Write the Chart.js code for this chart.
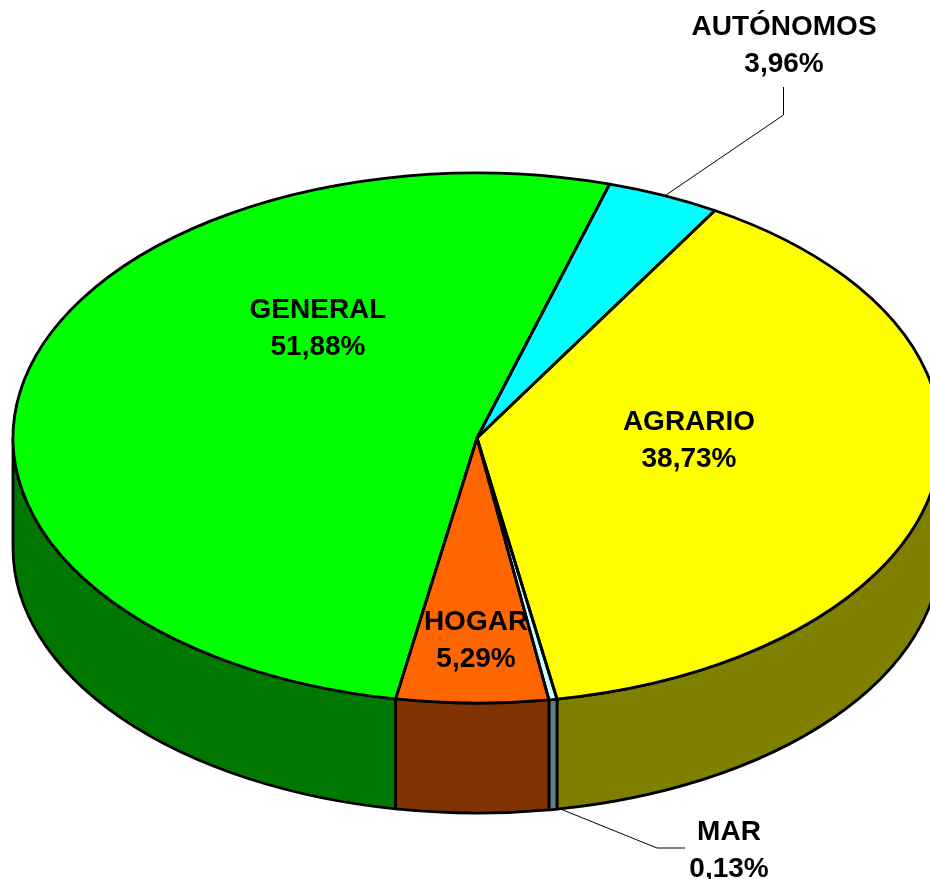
<!DOCTYPE html>
<html>
<head>
<meta charset="utf-8">
<style>
html, body { margin: 0; padding: 0; background: #fff; overflow: hidden; }
canvas { display: block; }
</style>
<script src="https://cdn.jsdelivr.net/npm/chart.js@4"></script>
</head>
<body>
<canvas id="myChart" width="930" height="879"></canvas>
<script>
const categories = ["GENERAL", "AUTÓNOMOS", "AGRARIO", "MAR", "HOGAR"];
const values = [51.88, 3.96, 38.73, 0.13, 5.29];
const topColors = ["#00ff00", "#00ffff", "#ffff00", "#ccffff", "#ff6600"];
const wallColors = ["#007800", "#008080", "#808000", "#648085", "#803300"];

// the picture keeps the tiny MAR slice visible, wider than 0,13% really is
const minSlice = 0.28;

// where the squashed pie sits on the page
const CX = 477, CY = 438, RX = 464, RY = 265, DEPTH = 110;
const OUTLINE = 2.8;

const labelSpots = [[318, 318], [784, 35], [689, 430], [729, 840], [476, 630]];
const leaders = [
    [[666, 195], [783.5, 115], [783.5, 87]],
    [[558, 808], [657, 848], [685, 848]]
];

const pie3d = {
    id: 'pie3d',
    beforeDatasetDraw(chart) {
        const ctx = chart.ctx;
        const arcs = chart.getDatasetMeta(0).data;
        // side wall, only the part facing us
        ctx.save();
        ctx.lineWidth = OUTLINE;
        ctx.lineJoin = 'round';
        ctx.strokeStyle = '#000';
        arcs.forEach((arc, i) => {
            [0, Math.PI * 2].forEach(k => {
                const s = Math.max(arc.startAngle, k);
                const e = Math.min(arc.endAngle, k + Math.PI);
                if (e <= s) return;
                ctx.beginPath();
                ctx.ellipse(CX, CY, RX, RY, 0, s, e);
                ctx.ellipse(CX, CY + DEPTH, RX, RY, 0, e, s, true);
                ctx.closePath();
                ctx.fillStyle = wallColors[i];
                ctx.fill();
                ctx.stroke();
            });
        });
        ctx.restore();

        const a = arcs[0];
        ctx.save();
        ctx.translate(CX, CY);
        ctx.scale(RX / a.outerRadius, RY / a.outerRadius);
        ctx.translate(-a.x, -a.y);
    },
    afterDatasetDraw(chart) {
        const ctx = chart.ctx;
        ctx.restore();
        ctx.save();
        ctx.lineWidth = OUTLINE;
        ctx.lineJoin = 'round';
        ctx.strokeStyle = '#000';
        chart.getDatasetMeta(0).data.forEach(arc => {
            ctx.beginPath();
            ctx.moveTo(CX, CY);
            ctx.ellipse(CX, CY, RX, RY, 0, arc.startAngle, arc.endAngle);
            ctx.closePath();
            ctx.stroke();
        });
        ctx.restore();
    },
    afterDraw(chart) {
        const ctx = chart.ctx;
        ctx.save();
        ctx.strokeStyle = '#000';
        ctx.lineWidth = 1;
        leaders.forEach(pts => {
            ctx.beginPath();
            pts.forEach((p, i) => i ? ctx.lineTo(p[0], p[1]) : ctx.moveTo(p[0], p[1]));
            ctx.stroke();
        });
        ctx.fillStyle = '#000';
        ctx.font = 'bold 28px "Liberation Sans"';
        ctx.textAlign = 'center';
        categories.forEach((name, i) => {
            const [x, y] = labelSpots[i];
            ctx.fillText(name, x, y);
            ctx.fillText(values[i].toFixed(2).replace('.', ',') + '%', x, y + 37);
        });
        ctx.restore();
    }
};

const ctx = document.getElementById('myChart').getContext('2d');

const myChart = new Chart(ctx, {
    type: 'pie',
    data: {
        labels: categories,
        datasets: [{
            data: values.map(v => Math.max(v, minSlice)),
            backgroundColor: topColors,
            borderWidth: 0,
            clip: false
        }]
    },
    options: {
        responsive: false,
        animation: false,
        rotation: 190.1,
        plugins: {
            legend: { display: false },
            tooltip: { enabled: false }
        }
    },
    plugins: [pie3d]
});
</script>
</body>
</html>
